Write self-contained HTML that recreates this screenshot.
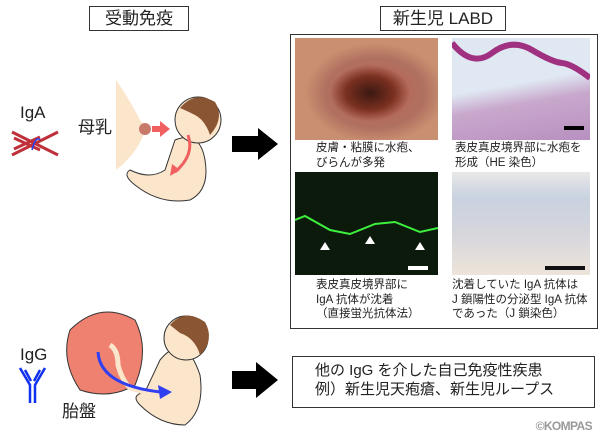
<!DOCTYPE html>
<html><head><meta charset="utf-8"><style>
body{margin:0;width:601px;height:441px;background:#fff;position:relative;overflow:hidden;font-family:"Liberation Sans","Noto Sans CJK JP",sans-serif;color:#222}
.a{position:absolute}
.box{position:absolute;border:1.3px solid #333;box-sizing:border-box}
.cap{position:absolute;font-size:11.5px;line-height:14.5px;white-space:nowrap}
</style></head><body>
<div class="box" style="left:89px;top:6px;width:100px;height:25px"></div>
<div class="a" style="left:89px;top:6px;width:100px;text-align:center;font-size:17px;line-height:25px">受動免疫</div>
<div class="box" style="left:380px;top:6px;width:126px;height:25px"></div>
<div class="a" style="left:380px;top:6px;width:126px;text-align:center;font-size:17px;line-height:25px">新生児 LABD</div>
<div class="box" style="left:290px;top:34px;width:308px;height:295px"></div>
<div class="a" style="left:295px;top:38px;width:143px;height:102px;background:radial-gradient(ellipse 40px 28px at 75px 55px,#3a1810 0%,#7a3020 60%,transparent 100%),radial-gradient(ellipse 70px 50px at 80px 55px,#c06050,#b07060 70%,#c89070)"></div>
<div class="a" style="left:452px;top:38px;width:138px;height:102px;background:linear-gradient(170deg,#dfe8f2 0%,#e0e8f3 45%,#c8a8cc 62%,#b890c0 100%)"></div>
<svg class="a" style="left:452px;top:38px" width="138" height="102"><path d="M0 5 Q20 30 40 15 T80 12 T110 25 T138 40" stroke="#a03080" stroke-width="6" fill="none"/><rect x="112" y="88" width="20" height="4" fill="#000"/></svg>
<div class="a" style="left:295px;top:172px;width:143px;height:103px;background:#0c1a0c"></div>
<svg class="a" style="left:295px;top:172px" width="143" height="103"><path d="M0 48 L10 44 L35 58 L55 62 L80 52 L100 50 L125 60 L143 56" stroke="#3ef03e" stroke-width="2" fill="none"/><polygon points="30,70 25,78 35,78" fill="#fff"/><polygon points="75,64 70,72 80,72" fill="#fff"/><polygon points="125,70 120,78 130,78" fill="#fff"/><rect x="113" y="94" width="20" height="4" fill="#fff"/></svg>
<div class="a" style="left:452px;top:172px;width:138px;height:103px;background:linear-gradient(180deg,#e8e8e8 0%,#c8d2e0 25%,#d6d6dc 60%,#ede4da 100%)"></div>
<svg class="a" style="left:452px;top:172px" width="138" height="103"><rect x="93" y="94" width="40" height="4" fill="#111"/></svg>
<div class="cap" style="left:316px;top:141px">皮膚・粘膜に水疱、<br>びらんが多発</div>
<div class="cap" style="left:455px;top:141px">表皮真皮境界部に水疱を<br>形成（HE 染色）</div>
<div class="cap" style="left:316px;top:278px">表皮真皮境界部に<br>IgA 抗体が沈着<br>（直接蛍光抗体法）</div>
<div class="cap" style="left:452px;top:278px">沈着していた IgA 抗体は<br>J 鎖陽性の分泌型 IgA 抗体<br>であった（J 鎖染色）</div>
<div class="box" style="left:292px;top:356px;width:303px;height:52px"></div>
<div class="a" style="left:315px;top:361px;font-size:15px;line-height:19px;white-space:nowrap">他の IgG を介した自己免疫性疾患<br>例）新生児天疱瘡、新生児ループス</div>
<div class="a" style="right:9px;top:419px;font-size:12px;font-weight:bold;color:#999;letter-spacing:-0.6px">©KOMPAS</div>
<svg class="a" style="left:0;top:0" width="290" height="441">
<polygon points="232,136 258,136 258,128 278,144 258,160 258,152 232,152" fill="#000"/>
<polygon points="232,371 256,371 256,362 278,380 256,398 256,389 232,389" fill="#000"/>
<text x="20" y="118" font-size="17" fill="#222" font-family="Liberation Sans">IgA</text>
<g stroke="#c0303a" stroke-width="3"><line x1="12" y1="132" x2="58" y2="155"/><line x1="12" y1="155" x2="58" y2="132"/><line x1="14" y1="138" x2="40" y2="150"/><line x1="14" y1="149" x2="40" y2="137"/></g>
<path d="M32 150 Q36 135 40 140" stroke="#2040ff" fill="none" stroke-width="1.5"/>
<text x="78" y="133" font-size="17" fill="#222">母乳</text>
<path d="M116 80 Q130 100 140 120 Q148 128 142 138 Q135 155 116 170 Z" fill="#fbe6cc"/>
<circle cx="145" cy="129" r="6" fill="#c77a6a"/>
<polygon points="152,126 160,126 160,121 170,129 160,137 160,132 152,132" fill="#f06060"/>
<path d="M175 140 Q200 130 205 160 Q210 190 190 200 Q160 205 135 185 Q122 175 130 170 Q150 180 165 170 Z" fill="#fbe6cc" stroke="#333" stroke-width="1"/>
<circle cx="198" cy="120" r="23" fill="#fbe6cc" stroke="#333" stroke-width="1"/>
<path d="M180 108 Q195 90 215 102 Q225 118 210 135 Q205 120 195 115 Q185 110 180 108Z" fill="#8a5533"/>
<path d="M188 135 Q195 155 175 172" stroke="#f06060" stroke-width="3" fill="none"/>
<polygon points="170,176 172,164 180,170" fill="#f06060"/>
<text x="20" y="360" font-size="17" fill="#222">IgG</text>
<g stroke="#1030f0" stroke-width="2.5" fill="none"><path d="M20 368 L30 385 L30 403"/><path d="M45 368 L35 385 L35 403"/><line x1="25" y1="370" x2="31" y2="381"/><line x1="40" y1="370" x2="34" y2="381"/></g>
<path d="M70 330 Q100 300 135 320 Q150 350 135 385 Q110 400 80 390 Q60 360 70 330Z" fill="#ef8170" stroke="#333" stroke-width="1"/>
<path d="M160 360 Q185 330 200 375 Q205 410 185 425 Q160 425 140 405 Q130 395 145 392 Z" fill="#fbe6cc" stroke="#333" stroke-width="1"/>
<circle cx="186" cy="338" r="22" fill="#fbe6cc" stroke="#333" stroke-width="1"/>
<path d="M170 325 Q185 308 205 322 Q215 340 200 355 Q195 338 180 333Z" fill="#8a5533"/>
<path d="M110 345 Q118 350 118 365 Q122 380 130 388 Q150 395 168 392" stroke="#fbe6cc" stroke-width="5" fill="none"/>
<path d="M98 352 Q100 385 160 392" stroke="#3040f0" stroke-width="3" fill="none"/>
<polygon points="172,392 158,385 160,399" fill="#3040f0"/>
<text x="62" y="417" font-size="17" fill="#222">胎盤</text>
</svg>
</body></html>
